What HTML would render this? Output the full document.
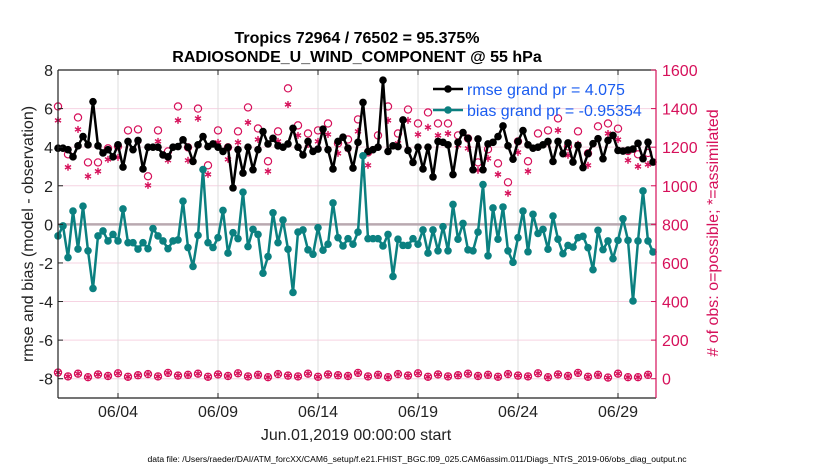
<!DOCTYPE html>
<html><head><meta charset="utf-8">
<style>
html,body{margin:0;padding:0;background:#fff;}
svg text{font-family:"Liberation Sans",Arial,sans-serif;}
</style></head>
<body>
<svg id="chart" width="830" height="470" viewBox="0 0 830 470" xmlns="http://www.w3.org/2000/svg">
<rect x="0" y="0" width="830" height="470" fill="#fff"/>
<text x="357" y="43" font-size="16" font-weight="bold" text-anchor="middle" fill="#000">Tropics 72964 / 76502 = 95.375%</text>
<text x="357" y="62" font-size="16" font-weight="bold" text-anchor="middle" fill="#000">RADIOSONDE_U_WIND_COMPONENT @ 55 hPa</text>
<g id="grid"></g>
<g id="marks"></g>
<g id="axes"></g>
<text x="356" y="440" font-size="16" text-anchor="middle" fill="#222">Jun.01,2019 00:00:00 start</text>
<text x="417" y="462" font-size="8.6" text-anchor="middle" fill="#000">data file: /Users/raeder/DAI/ATM_forcXX/CAM6_setup/f.e21.FHIST_BGC.f09_025.CAM6assim.011/Diags_NTrS_2019-06/obs_diag_output.nc</text>
<text transform="translate(33,234) rotate(-90)" font-size="16" text-anchor="middle" fill="#222">rmse and bias (model - observation)</text>
<text transform="translate(718,233) rotate(-90)" font-size="16" text-anchor="middle" fill="#d6105a"># of obs: o=possible; *=assimilated</text>
<g>
  <line x1="433" y1="89" x2="463" y2="89" stroke="#000" stroke-width="2.5"/>
  <circle cx="448" cy="89" r="3.8" fill="#000"/>
  <text x="467" y="95" font-size="16" fill="#1a5cf0">rmse grand pr = 4.075</text>
  <line x1="433" y1="110" x2="463" y2="110" stroke="#0b8080" stroke-width="2.5"/>
  <circle cx="448" cy="110" r="3.8" fill="#0b8080"/>
  <text x="467" y="116" font-size="16" fill="#1a5cf0">bias grand pr = -0.95354</text>
</g>
</svg>
<script>
var rmse = [3.95,3.95,3.87,3.5,4.07,4.55,4.12,6.36,4.07,3.7,3.87,3.5,4.12,2.97,4.3,3.87,4.35,2.87,4.0,4.0,4.0,3.6,3.5,4.0,4.03,4.38,4.0,3.26,
4.12,4.55,4.03,4.17,4.0,3.78,4.0,1.89,3.87,2.66,4.0,2.83,3.87,4.81,4.17,4.46,4.07,4.0,4.17,4.98,4.0,3.6,4.3,3.78,3.9,4.93,3.87,
2.87,4.3,4.52,3.95,2.92,4.25,6.32,3.78,3.87,4.0,7.47,3.78,4.07,4.03,5.41,3.83,3.21,4.0,2.87,4.0,2.46,4.3,4.25,4.12,2.58,4.25,4.76,4.46,
2.83,4.43,2.83,4.17,4.25,4.55,5.1,4.07,3.38,4.3,4.86,4.12,3.95,4.0,4.12,4.3,3.26,4.3,
3.66,4.22,3.23,4.09,2.94,3.66,4.18,4.44,3.4,4.35,4.61,3.83,
3.8,3.85,3.9,4.2,3.4,4.26,3.23];
var bias = [-0.6,-0.08,-1.72,0.69,-1.28,0.94,-1.37,-3.32,-0.6,-0.34,-0.86,-0.52,-0.86,0.8,-0.95,-0.95,-1.28,-0.95,-1.26,-0.22,-0.6,-0.86,-1.26,-0.86,-0.81,1.2,-1.2,-2.18,
-0.57,2.84,-0.95,-1.2,-0.69,0.72,-1.49,-0.43,-0.74,1.67,-1.15,-0.26,-0.52,-2.53,-1.67,0.6,-0.95,0.22,-1.29,-3.53,-0.4,-0.29,-1.32,-1.55,-0.17,-1.34,-1.03,
1.11,-0.69,-1.12,-0.74,-1.03,-0.4,3.55,-0.74,-0.74,-0.74,-1.12,-0.52,-2.7,-0.77,-1.09,-1.09,-0.74,-1.03,-0.29,-1.49,-0.29,-1.37,-0.12,-1.37,1.03,-0.77,0.05,-1.32,
-1.37,-0.4,2.06,-1.63,0.85,-0.77,0.9,-1.37,-1.97,-0.69,0.69,-1.42,0.52,-0.47,-0.26,-1.29,0.43,-0.77,
-1.52,-1.09,-1.18,-0.69,-0.62,-1.21,-2.35,-0.31,-1.31,-0.86,-1.78,-0.83,0.29,-0.83,-3.97,-0.86,1.73,-0.86,-1.43];
var obsPossible = [1411,1163,1354,1121,1121,1194,1204,1287,1292,1049,1287,1178,1411,1199,
1400,1106,1287,1199,1282,1406,1297,1127,1282,1505,1313,1271,1287,
1323,1220,1240,1344,1173,1261,1411,1271,1395,1323,1380,1323,1323,1261,
1245,1121,1189,1116,1018,1230,1127,1271,1287,1349,1204,1282,1168,1308,1323,
1296,1180,1163,1170];
var obsAssim = [1339,1096,1292,1049,1075,1137,1147,1230,1230,1002,1230,1132,1339,1132,
1349,1059,1225,1137,1225,1328,1240,1075,1230,1421,1261,1214,1230,
1266,1168,1189,1282,1106,1199,1339,1220,1339,1266,1303,1261,1271,1209,
1194,1080,1142,1059,961,1173,1075,1199,1225,1287,1158,1215,1106,1245,1271,
1239,1132,1100,1110];
var obsLow = [32,12,26,8,22,14,28,10,18,24,12,30,16,20,26,10,22,14,28,12,
20,8,24,16,12,26,10,22,18,14,30,12,20,8,24,16,28,10,22,12,
18,26,14,20,10,24,16,12,28,8,22,14,30,10,20,6,26,8,8,20];
var xTickLabels = ["06/04","06/09","06/14","06/19","06/24","06/29"];
var xTickDays = [3,8,13,18,23,28];
var yTicksLeft = [-8,-6,-4,-2,0,2,4,6,8];
var yTicksRight = [0,200,400,600,800,1000,1200,1400,1600];

var NS = "http://www.w3.org/2000/svg";
var PL = 58, PR = 656, PT = 70, PB = 398;
var X0 = 0, X1 = 29.9, YL0 = -9, YL1 = 8;
function xs(d){ return PL + (d - X0) / (X1 - X0) * (PR - PL); }
function yl(v){ return PB - (v - YL0) / (YL1 - YL0) * (PB - PT); }
function yr(n){ return yl(n / 100 - 8); }
function mk(tag, attrs, parent){
  var e = document.createElementNS(NS, tag);
  for (var k in attrs) e.setAttribute(k, attrs[k]);
  parent.appendChild(e); return e;
}
var grid = document.getElementById("grid");
var marks = document.getElementById("marks");
var axes = document.getElementById("axes");

yTicksLeft.forEach(function(v){
  var y = yl(v);
  var g = mk("line", {x1:PL, x2:PR, y1:y, y2:y, stroke:"#f6d3e2", "stroke-width":1}, grid);
  
  
});
xTickDays.forEach(function(d){
  var x = xs(d);
  var g = mk("line", {x1:x, x2:x, y1:PT, y2:PB, stroke:"#dcdcdc", "stroke-width":1}, grid);
  
  
});
var zl = mk("line", {x1:PL, x2:PR, y1:yl(0), y2:yl(0), stroke:"#b9a9b0", "stroke-width":2.5}, grid);



function drawSeries(vals, color, name){
  var pts = vals.map(function(v,i){ return xs(i*0.25) + "," + yl(v); }).join(" ");
  var pl = mk("polyline", {points:pts, fill:"none", stroke:color, "stroke-width":2.5, "stroke-linejoin":"round"}, marks);
  
  
  vals.forEach(function(v,i){
    var c = mk("circle", {cx:xs(i*0.25), cy:yl(v), r:3.8, fill:color}, marks);
    
    
  });
}
function star(x, y, name){
  var g = mk("g", {stroke:"#d6105a", "stroke-width":1.4}, marks);
  
  
  var r = 3.5;
  mk("line", {x1:x, x2:x, y1:y-r, y2:y+r}, g);
  mk("line", {x1:x-r*0.87, x2:x+r*0.87, y1:y-r*0.5, y2:y+r*0.5}, g);
  mk("line", {x1:x-r*0.87, x2:x+r*0.87, y1:y+r*0.5, y2:y-r*0.5}, g);
}
obsPossible.forEach(function(n,i){
  var c = mk("circle", {cx:xs(i*0.5), cy:yr(n), r:3.6, fill:"none", stroke:"#d6105a", "stroke-width":1.2}, marks);
  
  
});
obsAssim.forEach(function(n,i){ star(xs(i*0.5), yr(n), 'obs-assimilated-marker'); });
obsLow.forEach(function(n,i){
  var c = mk("circle", {cx:xs(i*0.5), cy:yr(n), r:3.6, fill:"none", stroke:"#d6105a", "stroke-width":1.2}, marks);
  
  
  star(xs(i*0.5), yr(n), 'obs-low-assimilated-marker');
});
drawSeries(rmse, "#000", "rmse");
drawSeries(bias, "#0b8080", "bias");

var axTop = mk("line", {x1:PL, x2:PR, y1:PT, y2:PT, stroke:"#222", "stroke-width":1.2}, axes);


var axBot = mk("line", {x1:PL, x2:PR, y1:PB, y2:PB, stroke:"#222", "stroke-width":1.2}, axes);


var axLeft = mk("line", {x1:PL, x2:PL, y1:PT, y2:PB, stroke:"#222", "stroke-width":1.2}, axes);


var axRight = mk("line", {x1:PR, x2:PR, y1:PT, y2:PB, stroke:"#d6105a", "stroke-width":1.2}, axes);



xTickDays.forEach(function(d,i){
  var x = xs(d);
  mk("line", {x1:x, x2:x, y1:PB, y2:PB-5, stroke:"#222"}, axes);
  mk("line", {x1:x, x2:x, y1:PT, y2:PT+5, stroke:"#222"}, axes);
  var t = mk("text", {x:x, y:417, "font-size":16, "text-anchor":"middle", fill:"#222"}, axes);
  t.textContent = xTickLabels[i];
  
  
});
yTicksLeft.forEach(function(v){
  var y = yl(v);
  mk("line", {x1:PL, x2:PL+5, y1:y, y2:y, stroke:"#222"}, axes);
  var t = mk("text", {x:53, y:y+6, "font-size":16, "text-anchor":"end", fill:"#222"}, axes);
  t.textContent = String(v);
  
  
});
yTicksRight.forEach(function(n){
  var y = yr(n);
  mk("line", {x1:PR, x2:PR-5, y1:y, y2:y, stroke:"#d6105a"}, axes);
  var t = mk("text", {x:662, y:y+6, "font-size":16, "text-anchor":"start", fill:"#d6105a"}, axes);
  t.textContent = String(n);
  
  
});
</script>
</body></html>
